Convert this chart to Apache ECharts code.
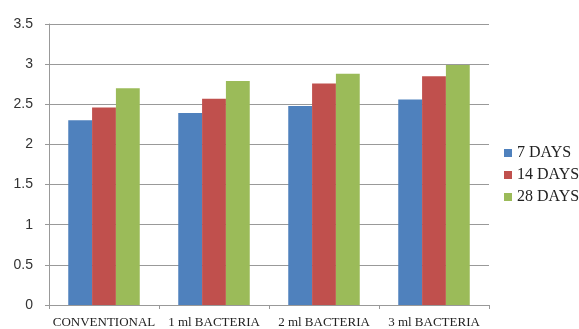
<!DOCTYPE html>
<html>
<head>
<meta charset="utf-8">
<script src="https://cdn.jsdelivr.net/npm/echarts@6/dist/echarts.min.js"></script>
<style>
  html, body { margin: 0; padding: 0; background: #fff; }
  #main { width: 579px; height: 329px; }
</style>
</head>
<body>
<div id="main"></div>
<script>
// categories and series
var categories = ['CONVENTIONAL', '1 ml BACTERIA', '2 ml BACTERIA', '3 ml BACTERIA'];
var days7 = [2.30, 2.39, 2.48, 2.56];
var days14 = [2.46, 2.57, 2.76, 2.85];
var days28 = [2.70, 2.79, 2.88, 2.99];

var chart = echarts.init(document.getElementById('main'));

var serif = '"Liberation Serif", "DejaVu Serif", serif';

chart.setOption({
  animation: false,
  textStyle: { fontFamily: serif },
  color: ['#4F81BD', '#C0504D', '#9BBB59'],
  legend: {
    orient: 'vertical',
    left: 499,
    top: 140,
    itemWidth: 8,
    itemHeight: 8,
    itemGap: 6,
    icon: 'rect',
    textStyle: { fontFamily: serif, fontSize: 16, color: '#222' },
    data: ['7 DAYS', '14 DAYS', '28 DAYS']
  },
  grid: {
    left: 49,
    right: 90,
    top: 24,
    bottom: 24,
    containLabel: false
  },
  xAxis: {
    type: 'category',
    data: categories,
    axisLine: { lineStyle: { color: '#999' } },
    axisTick: { show: true, length: 4, lineStyle: { color: '#999' } },
    axisLabel: { interval: 0, fontFamily: serif, fontSize: 13, color: '#222', margin: 11 }
  },
  yAxis: {
    type: 'value',
    min: 0,
    max: 3.5,
    interval: 0.5,
    axisLine: { show: true, lineStyle: { color: '#999' } },
    axisTick: { show: true, length: 4, lineStyle: { color: '#999' } },
    axisLabel: { fontFamily: '"Liberation Sans", Arial, sans-serif', fontSize: 14, color: '#333', margin: 16 },
    splitLine: { lineStyle: { color: '#999' } }
  },
  series: [
    { name: '7 DAYS', type: 'bar', data: days7, barGap: '0%', barCategoryGap: '35%' },
    { name: '14 DAYS', type: 'bar', data: days14 },
    { name: '28 DAYS', type: 'bar', data: days28 }
  ]
});
</script>
</body>
</html>
